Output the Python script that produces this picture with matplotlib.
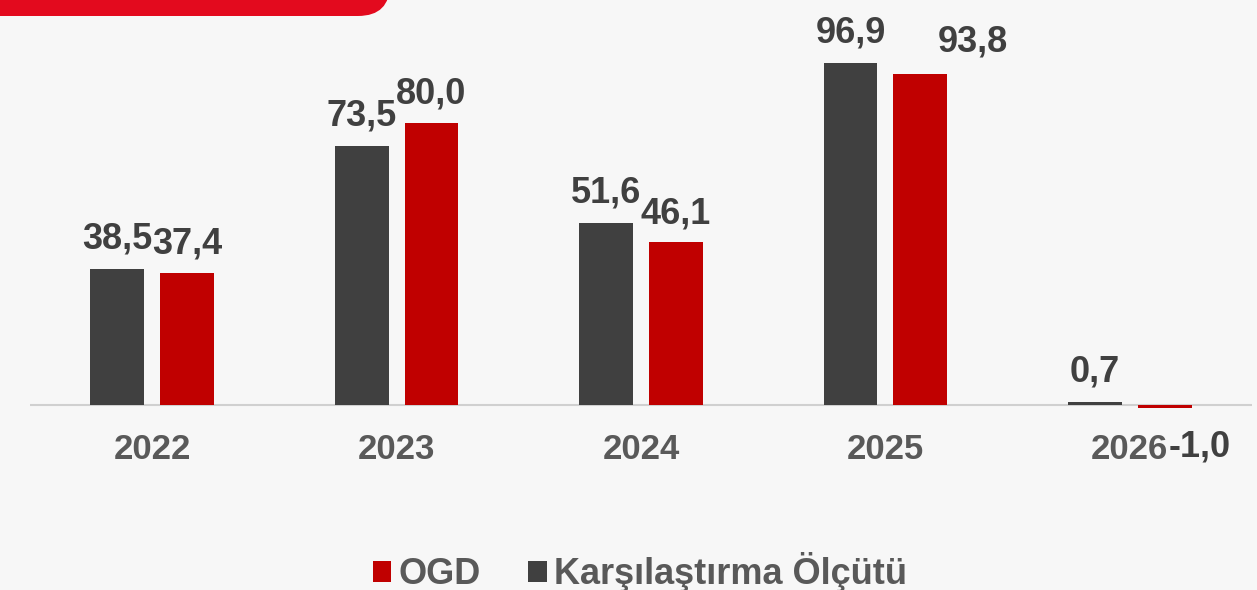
import matplotlib
matplotlib.use("Agg")
import matplotlib.pyplot as plt
from matplotlib.patches import FancyBboxPatch
from matplotlib.transforms import IdentityTransform
import numpy as np

categories = ["2022", "2023", "2024", "2025", "2026"]
benchmark = [38.5, 73.5, 51.6, 96.9, 0.7]
ogd = [37.4, 80.0, 46.1, 93.8, -1.0]
series_names = ["OGD", "Karşılaştırma Ölçütü"]

plt.rcParams['font.family'] = ['Liberation Sans', 'DejaVu Sans']

W, H = 1257, 590
fig = plt.figure(figsize=(W/100, H/100), dpi=100, facecolor="#f7f7f7")
ax = fig.add_axes([30/W, (H-412)/H, 1222/W, 360/H])
ax.set_facecolor("#f7f7f7")

x = np.arange(len(categories))
bw = 0.22
off = 0.143
gray = "#404040"
red = "#c00000"
b1 = ax.bar(x - off, benchmark, bw, color=gray, label=series_names[1], zorder=3)
b2 = ax.bar(x + off, ogd, bw, color=red, label=series_names[0], zorder=3)

ax.set_xlim(-0.5, 4.5)
ax.set_ylim(-2, 100)
ax.axhline(0, color="#d0d0d0", lw=1.5, zorder=2)
for s in ax.spines.values():
    s.set_visible(False)
ax.set_yticks([])
ax.set_xticks(x)
ax.set_xticklabels(categories, fontsize=25, fontweight="bold", color="#595959")
ax.tick_params(axis="x", length=0, pad=15)

lab_col = "#404040"
fs = 26
def fmt(v):
    return f"{v:.1f}".replace(".", ",")

# label offsets (points) for OGD labels that were moved in the original
ogd_label_offsets = {3: (38, 10)}

for xi, v in zip(x - off, benchmark):
    ax.annotate(fmt(v), (xi, max(v, 0)), xytext=(0, 9), textcoords="offset points",
                ha="center", va="bottom", fontsize=fs, fontweight="bold", color=lab_col)
for i, (xi, v) in enumerate(zip(x + off, ogd)):
    if v >= 0:
        dx, dy = ogd_label_offsets.get(i, (0, 8))
        ax.annotate(fmt(v), (xi, v), xytext=(dx, dy), textcoords="offset points",
                    ha="center", va="bottom", fontsize=fs, fontweight="bold", color=lab_col)
    else:
        ax.annotate(fmt(v), (xi, 0), xytext=(25, -30), textcoords="offset points",
                    ha="center", va="center", fontsize=fs, fontweight="bold", color=lab_col)

handles = [b2, b1]
leg = fig.legend(handles, series_names, loc="center", bbox_to_anchor=(0.509, (H-572)/H),
                 ncol=2, frameon=False, fontsize=26, handlelength=0.52, handleheight=0.52,
                 handletextpad=0.2, columnspacing=1.3)
for t in leg.get_texts():
    t.set_fontweight("bold")
    t.set_color("#595959")

tab = FancyBboxPatch((-60, H-16), 450, 120, boxstyle="round,pad=0,rounding_size=32",
                     transform=IdentityTransform(), facecolor="#e30a1e", edgecolor="none")
fig.patches.append(tab)

fig.savefig("out.png", dpi=100, facecolor=fig.get_facecolor())
